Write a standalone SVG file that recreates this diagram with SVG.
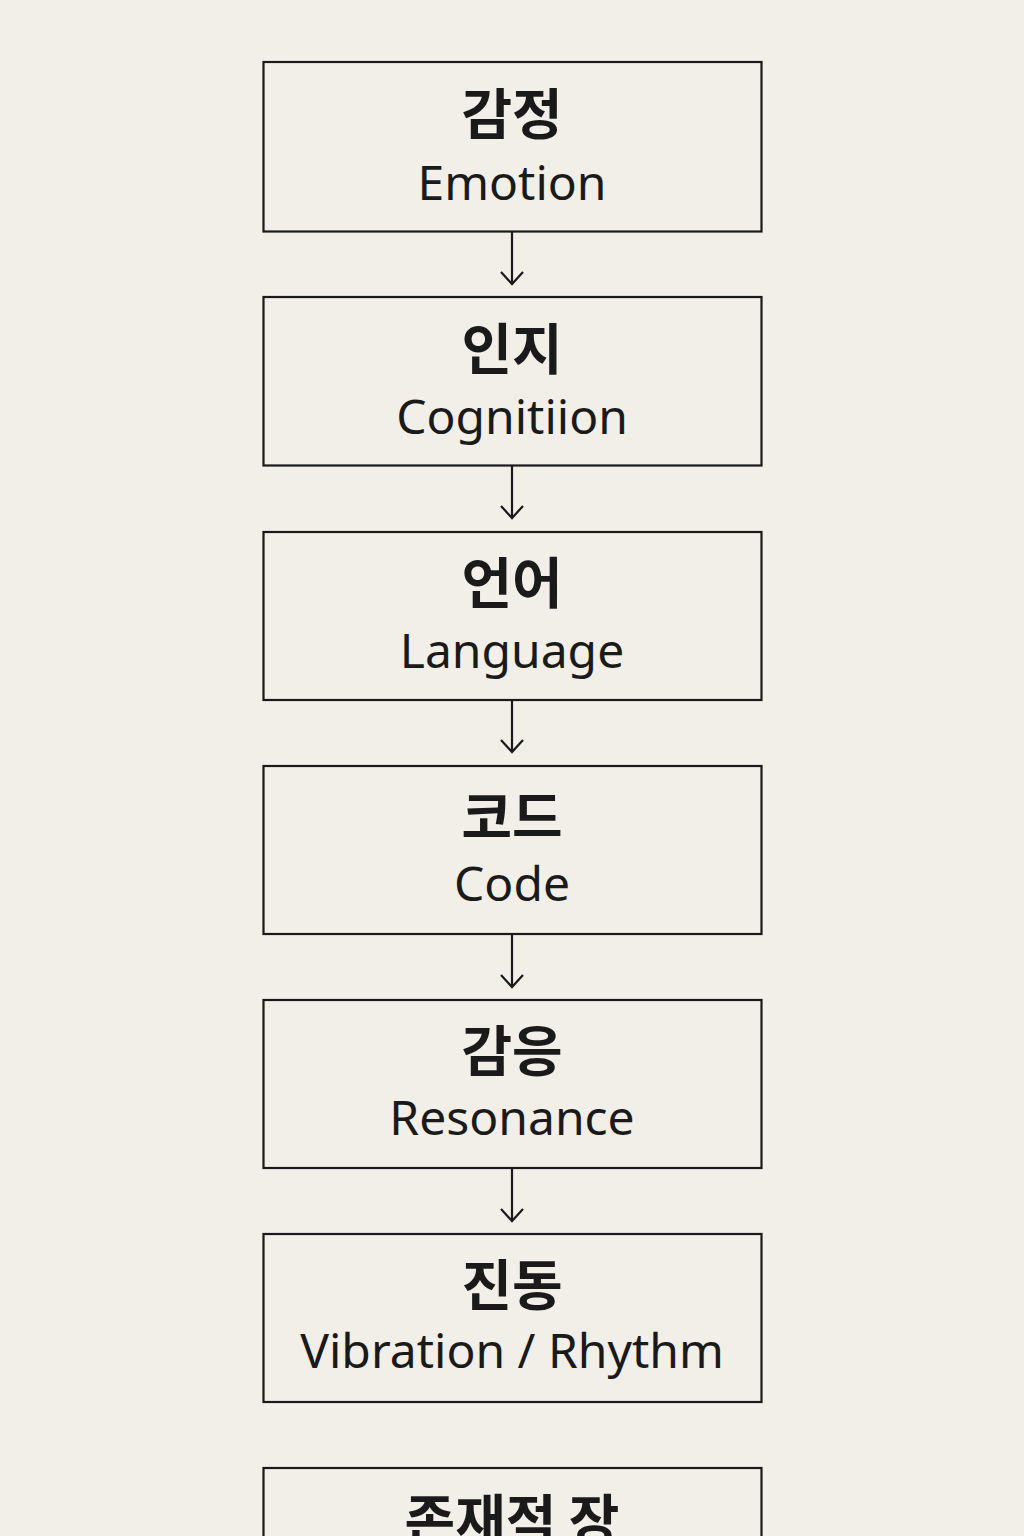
<svg xmlns="http://www.w3.org/2000/svg" width="1024" height="1536" viewBox="0 0 1024 1536">
<defs>
<style>
.box{fill:#f2eee8;stroke:#1a1a1a;stroke-width:2.2}
.ko{font-family:"Noto Sans CJK KR","Noto Sans",sans-serif;font-weight:700;font-size:55px;fill:#1a1a1a;text-anchor:middle}
.en{font-family:"Noto Sans","Open Sans",sans-serif;font-size:48px;fill:#1a1a1a;text-anchor:middle}
.conn{stroke:#1a1a1a;stroke-width:2.2;fill:none}
</style>
</defs>
<rect width="1024" height="1536" fill="#f2eee8"/>
<g id="connectors">
<line class="conn" x1="512" y1="232" x2="512" y2="284"/>
<path class="conn" d="M501,272 L512,284 L523,272"/>
<line class="conn" x1="512" y1="466" x2="512" y2="518"/>
<path class="conn" d="M501,506 L512,518 L523,506"/>
<line class="conn" x1="512" y1="701" x2="512" y2="752"/>
<path class="conn" d="M501,740 L512,752 L523,740"/>
<line class="conn" x1="512" y1="935" x2="512" y2="987"/>
<path class="conn" d="M501,975 L512,987 L523,975"/>
<line class="conn" x1="512" y1="1169" x2="512" y2="1221"/>
<path class="conn" d="M501,1209 L512,1221 L523,1209"/>
</g>
<g id="node-emotion">
<rect class="box" x="263.5" y="62" width="498" height="169.5"/>
<text class="ko" x="512" y="134">감정</text>
<text class="en" x="512" y="200">Emotion</text>
</g>
<g id="node-cognition">
<rect class="box" x="263.5" y="297" width="498" height="168.5"/>
<text class="ko" x="512" y="369">인지</text>
<text class="en" x="512" y="434">Cognitiion</text>
</g>
<g id="node-language">
<rect class="box" x="263.5" y="532" width="498" height="168"/>
<text class="ko" x="512" y="603">언어</text>
<text class="en" x="512" y="668">Language</text>
</g>
<g id="node-code">
<rect class="box" x="263.5" y="766" width="498" height="168"/>
<text class="ko" x="512" y="837">코드</text>
<text class="en" x="512" y="901">Code</text>
</g>
<g id="node-resonance">
<rect class="box" x="263.5" y="1000" width="498" height="168"/>
<text class="ko" x="512" y="1071">감응</text>
<text class="en" x="512" y="1135">Resonance</text>
</g>
<g id="node-vibration">
<rect class="box" x="263.5" y="1234" width="498" height="168"/>
<text class="ko" x="512" y="1305">진동</text>
<text class="en" x="512" y="1368">Vibration / Rhythm</text>
</g>
<g id="node-field">
<rect class="box" x="263.5" y="1468" width="498" height="100"/>
<text class="ko" x="512" y="1540">존재적 장</text>
</g>
</svg>
